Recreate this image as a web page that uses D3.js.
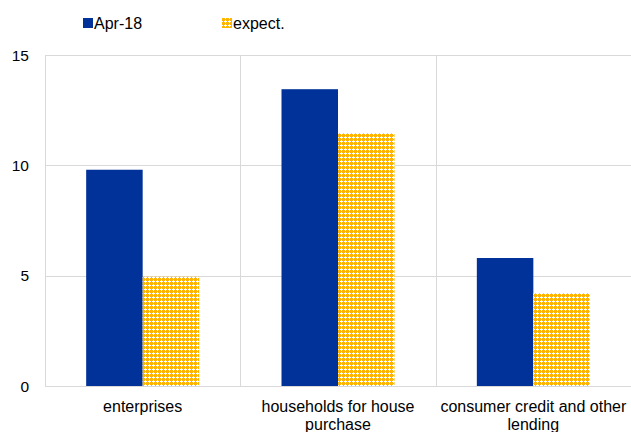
<!DOCTYPE html>
<html>
<head>
<meta charset="utf-8">
<script src="https://cdn.jsdelivr.net/npm/d3@7"></script>
<style>
  html, body { margin: 0; padding: 0; background: #fff; }
  svg { display: block; font-family: "Liberation Sans", Arial, sans-serif; }
</style>
</head>
<body>
<svg id="chart" width="631" height="432"></svg>
<script>
// Bank lending categories and survey values
const categories = [
  ["enterprises"],
  ["households for house", "purchase"],
  ["consumer credit and other", "lending"]
];
const seriesNames = ["Apr-18", "expect."];
const apr18 = [9.8, 13.45, 5.8];
const expect = [4.95, 11.45, 4.2];
const yTicks = [0, 5, 10, 15];

const svg = d3.select("#chart");
const margin = { left: 45, right: 0, top: 55, bottom: 46 };
const W = 631, H = 432;

// Checked pattern for the expectation bars
const defs = svg.append("defs");
const pat = defs.append("pattern")
  .attr("id", "checks")
  .attr("patternUnits", "userSpaceOnUse")
  .attr("width", 4).attr("height", 4);
pat.append("rect").attr("width", 4).attr("height", 4).attr("fill", "#ffb400");
[[1, 0], [0, 1], [1, 1], [2, 1], [1, 2]].forEach(([px, py]) =>
  pat.append("rect").attr("x", px).attr("y", py).attr("width", 1).attr("height", 1).attr("fill", "#ffffff"));

const x = d3.scaleBand()
  .domain(d3.range(categories.length))
  .range([margin.left, W - margin.right]);
const y = d3.scaleLinear().domain([0, 15]).range([H - margin.bottom, margin.top]);

const barW = 56.5;

// Horizontal gridlines
svg.append("g").selectAll("line").data(yTicks).join("line")
  .attr("x1", margin.left).attr("x2", W - margin.right)
  .attr("y1", d => Math.round(y(d)) + 0.5).attr("y2", d => Math.round(y(d)) + 0.5)
  .attr("stroke", "#d9d9d9").attr("stroke-width", 1);

// Vertical category separators
svg.append("g").selectAll("line").data(d3.range(categories.length)).join("line")
  .attr("x1", d => Math.round(x(d)) + 0.5).attr("x2", d => Math.round(x(d)) + 0.5)
  .attr("y1", y(15)).attr("y2", y(0))
  .attr("stroke", "#d9d9d9").attr("stroke-width", 1);

// Y tick labels
svg.append("g").selectAll("text").data(yTicks).join("text")
  .attr("x", 29).attr("y", d => y(d) + 5.5)
  .attr("text-anchor", "end")
  .attr("font-size", 15.5).attr("fill", "#000")
  .text(d => d);

// Bars
const cx = i => x(i) + x.bandwidth() / 2;
svg.append("g").selectAll("rect").data(apr18).join("rect")
  .attr("x", (d, i) => cx(i) - barW).attr("width", barW)
  .attr("y", d => y(d)).attr("height", d => y(0) - y(d))
  .attr("fill", "#003299");
svg.append("g").selectAll("rect").data(expect).join("rect")
  .attr("x", (d, i) => cx(i)).attr("width", barW)
  .attr("y", d => y(d)).attr("height", d => y(0) - y(d))
  .attr("fill", "url(#checks)");

// Category labels
const lab = svg.append("g").selectAll("text").data(categories).join("text")
  .attr("x", (d, i) => cx(i)).attr("y", 412)
  .attr("text-anchor", "middle")
  .attr("font-size", 16).attr("fill", "#000");
lab.selectAll("tspan").data(d => d).join("tspan")
  .attr("x", function () { return d3.select(this.parentNode).attr("x"); })
  .attr("dy", (d, i) => i === 0 ? 0 : 18)
  .text(d => d);

// Legend
const legend = svg.append("g");
const legX = [83, 222];
const fills = ["#003299", "url(#checks)"];
seriesNames.forEach((n, i) => {
  legend.append("rect").attr("x", legX[i]).attr("y", 18).attr("width", 10).attr("height", 10).attr("fill", fills[i]);
  legend.append("text").attr("x", legX[i] + 11).attr("y", 29)
    .attr("font-size", 16).attr("fill", "#000").text(n);
});
</script>
</body>
</html>
